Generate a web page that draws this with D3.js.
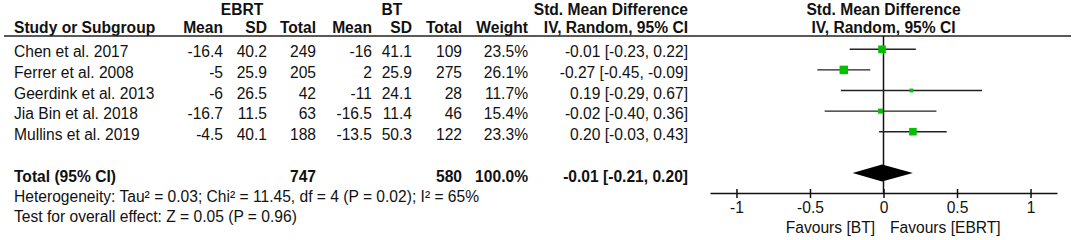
<!DOCTYPE html>
<html>
<head>
<meta charset="utf-8">
<script src="https://cdn.jsdelivr.net/npm/d3@7"></script>
<style>
  body { margin: 0; background: #fff; }
  svg text { font-family: "Liberation Sans", Arial, sans-serif; font-size: 15.6px; fill: #111; }
  .b { font-weight: bold; }
</style>
</head>
<body>
<svg id="chart" width="1072" height="240"></svg>
<script>
var studies = ['Chen et al. 2017', 'Ferrer et al. 2008', 'Geerdink et al. 2013', 'Jia Bin et al. 2018', 'Mullins et al. 2019'];
var ebrtMean = ['-16.4', '-5', '-6', '-16.7', '-4.5'];
var ebrtSD = ['40.2', '25.9', '26.5', '11.5', '40.1'];
var ebrtN = [249, 205, 42, 63, 188];
var btMean = ['-16', '2', '-11', '-16.5', '-13.5'];
var btSD = ['41.1', '25.9', '24.1', '11.4', '50.3'];
var btN = [109, 275, 28, 46, 122];
var weights = [23.5, 26.1, 11.7, 15.4, 23.3];
var smd = [-0.01, -0.27, 0.19, -0.02, 0.20];
var ciLow = [-0.23, -0.45, -0.29, -0.40, -0.03];
var ciHigh = [0.22, -0.09, 0.67, 0.36, 0.43];
var total = {ebrtN: 747, btN: 580, weight: '100.0%', smd: -0.01, lo: -0.21, hi: 0.20};
var tickVals = [-1, -0.5, 0, 0.5, 1];
var hetText = 'Heterogeneity: Tau\u00b2 = 0.03; Chi\u00b2 = 11.45, df = 4 (P = 0.02); I\u00b2 = 65%';
var testText = 'Test for overall effect: Z = 0.05 (P = 0.96)';

var
  svg = d3.select('#chart'),
  rowY = d3.scaleLinear().domain([0, 1]).range([49.3, 69.9]),
  xScale = d3.scaleLinear().domain([-1.18, 1.18]).range([710, 1057]),
  sizeScale = d3.scaleLinear().domain([0, 26.1]).range([0, 8.5]),
  baseOff = 8,
  totalY = 173,
  axisY = 193,
  f2 = v => d3.format('.2f')(v).replace('\u2212', '-'),
  ciText = (m, l, h) => f2(m) + ' [' + f2(l) + ', ' + f2(h) + ']';

svg.append('rect').attr('width', 1072).attr('height', 240).attr('fill', '#fff');

// column layout: right edges
var cols = [
  {x: 223, head: 'Mean', vals: ebrtMean},
  {x: 267, head: 'SD', vals: ebrtSD},
  {x: 316, head: 'Total', vals: ebrtN},
  {x: 372, head: 'Mean', vals: btMean},
  {x: 412, head: 'SD', vals: btSD},
  {x: 462, head: 'Total', vals: btN},
  {x: 528, head: 'Weight', vals: weights.map(w => w.toFixed(1) + '%')},
  {x: 688, head: 'IV, Random, 95% CI', vals: smd.map((d, i) => ciText(d, ciLow[i], ciHigh[i]))}
];

// group headers
svg.append('text').attr('class', 'b').attr('x', 242).attr('y', 15).attr('text-anchor', 'middle').text('EBRT');
svg.append('text').attr('class', 'b').attr('x', 392).attr('y', 15).attr('text-anchor', 'middle').text('BT');
svg.append('text').attr('class', 'b').attr('x', 688).attr('y', 15).attr('text-anchor', 'end').text('Std. Mean Difference');
svg.append('text').attr('class', 'b').attr('x', xScale(0)).attr('y', 15).attr('text-anchor', 'middle').text('Std. Mean Difference');
svg.append('text').attr('class', 'b').attr('x', xScale(0)).attr('y', 33).attr('text-anchor', 'middle').text('IV, Random, 95% CI');
svg.append('text').attr('class', 'b').attr('x', 14).attr('y', 33).text('Study or Subgroup');

cols.forEach(function(c) {
  svg.append('text').attr('class', 'b').attr('x', c.x).attr('y', 33).attr('text-anchor', 'end').text(c.head);
  svg.selectAll(null)
    .data(c.vals)
    .enter()
    .append('text')
    .attr('x', c.x)
    .attr('y', (d, i) => rowY(i) + baseOff)
    .attr('text-anchor', 'end')
    .text(d => d);
});

svg.append('line')
  .attr('x1', 4).attr('x2', 1071).attr('y1', 36).attr('y2', 36)
  .attr('stroke', '#222').attr('stroke-width', 1.5);

svg.selectAll('.study')
  .data(studies)
  .enter()
  .append('text')
  .attr('class', 'study')
  .attr('x', 14)
  .attr('y', (d, i) => rowY(i) + baseOff)
  .text(d => d);

// total row
var ty = totalY + 9;
svg.append('text').attr('class', 'b').attr('x', 14).attr('y', ty).text('Total (95% CI)');
svg.append('text').attr('class', 'b').attr('x', 316).attr('y', ty).attr('text-anchor', 'end').text(total.ebrtN);
svg.append('text').attr('class', 'b').attr('x', 462).attr('y', ty).attr('text-anchor', 'end').text(total.btN);
svg.append('text').attr('class', 'b').attr('x', 528).attr('y', ty).attr('text-anchor', 'end').text(total.weight);
svg.append('text').attr('class', 'b').attr('x', 688).attr('y', ty).attr('text-anchor', 'end').text(ciText(total.smd, total.lo, total.hi));

svg.append('text').attr('x', 14).attr('y', 202).text(hetText);
svg.append('text').attr('x', 14).attr('y', 222).text(testText);

// zero line
svg.append('line')
  .attr('x1', xScale(0)).attr('x2', xScale(0)).attr('y1', 36).attr('y2', axisY)
  .attr('stroke', '#111').attr('stroke-width', 1.5);

// CI whiskers + squares
var rows = svg.selectAll('.row')
  .data(studies)
  .enter()
  .append('g')
  .attr('class', 'row');
rows.append('line')
  .attr('x1', (d, i) => xScale(ciLow[i]))
  .attr('x2', (d, i) => xScale(ciHigh[i]))
  .attr('y1', (d, i) => rowY(i))
  .attr('y2', (d, i) => rowY(i))
  .attr('stroke', '#222')
  .attr('stroke-width', 1.4);
rows.append('rect')
  .attr('x', (d, i) => xScale(smd[i]) - sizeScale(weights[i]) / 2)
  .attr('y', (d, i) => rowY(i) - sizeScale(weights[i]) / 2)
  .attr('width', (d, i) => sizeScale(weights[i]))
  .attr('height', (d, i) => sizeScale(weights[i]))
  .attr('fill', '#00c000');

// diamond
svg.append('path')
  .attr('d', 'M' + xScale(total.lo) + ',' + totalY +
    'L' + xScale(total.smd) + ',' + (totalY - 8.5) +
    'L' + xScale(total.hi) + ',' + totalY +
    'L' + xScale(total.smd) + ',' + (totalY + 8.5) + 'Z')
  .attr('fill', '#000');

// axis
var xAxis = d3.axisBottom(xScale)
  .tickValues(tickVals)
  .tickFormat(d => String(d))
  .tickSizeInner(5)
  .tickSizeOuter(0);
var ax = svg.append('g')
  .attr('transform', 'translate(0,' + axisY + ')')
  .call(xAxis);
ax.select('.domain').attr('stroke', '#111').attr('stroke-width', 1.5);
ax.selectAll('.tick line').attr('y1', -4).attr('stroke', '#111').attr('stroke-width', 1.5);
ax.selectAll('.tick text')
  .attr('font-family', null).attr('font-size', null)
  .style('font-size', '15.6px').attr('fill', '#111')
  .attr('y', 20).attr('dy', null);

svg.append('text').attr('x', 875).attr('y', 233).attr('text-anchor', 'end').text('Favours [BT]');
svg.append('text').attr('x', 890).attr('y', 233).text('Favours [EBRT]');
</script>
</body>
</html>
